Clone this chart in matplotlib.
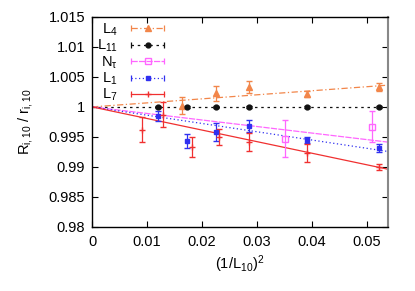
import numpy as np
import matplotlib
matplotlib.use("Agg")
import matplotlib.pyplot as plt
from matplotlib.lines import Line2D
from matplotlib.legend_handler import HandlerLine2D, HandlerTuple

plt.rcParams['font.family'] = ['Liberation Sans', 'DejaVu Sans']
plt.rcParams['mathtext.fontset'] = 'custom'
plt.rcParams['mathtext.rm'] = 'Liberation Sans'
plt.rcParams['mathtext.it'] = 'Liberation Sans'

# data
x_L4 = [0.0164, 0.0226, 0.0286, 0.0390, 0.0522]
y_L4 = [1.0002, 1.00225, 1.0033, 1.0022, 1.0033]
e_L4 = [0.0014, 0.00125, 0.0010, 0.0005, 0.0007]

x_L11 = [0.0120, 0.0173, 0.0226, 0.0286, 0.0390, 0.0522]
y_L11 = [1.0000, 1.0000, 1.0000, 1.0000, 1.0000, 1.0000]
e_L11 = [0.0001, 0.0001, 0.0001, 0.0001, 0.0001, 0.0001]

x_Nt = [0.0350, 0.0509]
y_Nt = [0.9947, 0.9967]
e_Nt = [0.0031, 0.0026]

x_L1 = [0.0120, 0.0173, 0.0226, 0.0286, 0.0390, 0.0522]
y_L1 = [0.9985, 0.9943, 0.9958, 0.9968, 0.9945, 0.9932]
e_L1 = [0.0008, 0.0012, 0.0015, 0.0010, 0.0005, 0.0007]

x_L7 = [0.0091, 0.0128, 0.0181, 0.0230, 0.0286, 0.0390, 0.0522]
y_L7 = [0.9962, 0.9987, 0.9933, 0.9950, 0.9942, 0.9923, 0.9900]
e_L7 = [0.0021, 0.0021, 0.0017, 0.0013, 0.0015, 0.0015, 0.0005]

# linear fits through (0, 1)
slopes = [0.0674, 0.0, -0.109, -0.138, -0.193]
labels = [r'$\mathrm{L}_{4}$', r'$\mathrm{L}_{11}$', r'$\mathrm{N}_{\tau}$',
          r'$\mathrm{L}_{1}$', r'$\mathrm{L}_{7}$']

xticks = [0, 0.01, 0.02, 0.03, 0.04, 0.05]
xticklabels = ['0', '0.01', '0.02', '0.03', '0.04', '0.05']
yticks = [0.98, 0.985, 0.99, 0.995, 1.0, 1.005, 1.01, 1.015]
yticklabels = ['0.98', '0.985', '0.99', '0.995', '1', '1.005', '1.01', '1.015']

series = [(x_L4, y_L4, e_L4), (x_L11, y_L11, e_L11), (x_Nt, y_Nt, e_Nt),
          (x_L1, y_L1, e_L1), (x_L7, y_L7, e_L7)]
colors = ['#f2864a', '#111111', '#ff66ff', '#3030f0', '#f03030']
markers = ['^', 'o', 's', 's', '+']
mfcs = ['#f2864a', '#111111', 'none', '#3030f0', '#f03030']
msizes = [4, 3.5, 4, 3.2, 5]
styles = [(0, (5, 2, 1, 2)), (0, (2, 3)), (0, (5, 1)), (0, (1, 2)), '-']

fig = plt.figure(figsize=(4.15, 2.91), dpi=100)
ax = fig.add_axes([0.222, 0.22, 0.713, 0.722])

xmax = 0.0538
xl = np.array([0, xmax])
handles = []
hmap = {}
for (xs, ys, es), c, m, mfc, ms, ls, k in zip(series, colors, markers, mfcs, msizes, styles, slopes):
    ax.plot(xl, 1 + k * xl, color=c, ls=ls, lw=0.9, zorder=2)
    ax.errorbar(xs, ys, yerr=es, fmt=m, color=c, mfc=mfc, mec=c, ms=ms,
                mew=1.0, elinewidth=0.9, capsize=2, capthick=0.9, zorder=3)
    bar = Line2D([], [], color=c, ls=ls, lw=0.9, marker='|', ms=5, mew=0.9)
    mk = Line2D([], [], color=c, ls='none', marker=m, mfc=mfc, mec=c, ms=ms, mew=1.0)
    hmap[bar] = HandlerLine2D(numpoints=2)
    hmap[mk] = HandlerLine2D(numpoints=1)
    handles.append((bar, mk))

hmap[tuple] = HandlerTuple(ndivide=1, pad=0)
leg = ax.legend(handles, labels, loc='upper left', markerfirst=False,
                frameon=False, fontsize=10.5, handlelength=2.9,
                handletextpad=0.6, labelspacing=0.0, borderaxespad=0.0,
                borderpad=0.1, bbox_to_anchor=(0.01, 0.985), handler_map=hmap)

ax.set_xlim(0, xmax)
ax.set_ylim(0.98, 1.015)
ax.set_xticks(xticks)
ax.set_xticklabels(xticklabels)
ax.set_yticks(yticks)
ax.set_yticklabels(yticklabels)
ax.tick_params(direction='in', length=4, width=0.8, top=True, right=True,
               labelsize=10.5)
ax.tick_params(axis='x', pad=6)
ax.tick_params(axis='y', pad=5)
for s in ax.spines.values():
    s.set_linewidth(1.0)
ax.spines['right'].set_color('#888888')
ax.spines['right'].set_linewidth(1.5)

ax.set_xlabel(r'$(1/\mathrm{L}_{10})^{2}$', fontsize=10.5, labelpad=3)
ax.set_ylabel(r'$\mathrm{R}_{\mathrm{i},10}$ / $\mathrm{r}_{\mathrm{i},10}$', fontsize=10.5, labelpad=10)

fig.savefig('out.png', dpi=100)
